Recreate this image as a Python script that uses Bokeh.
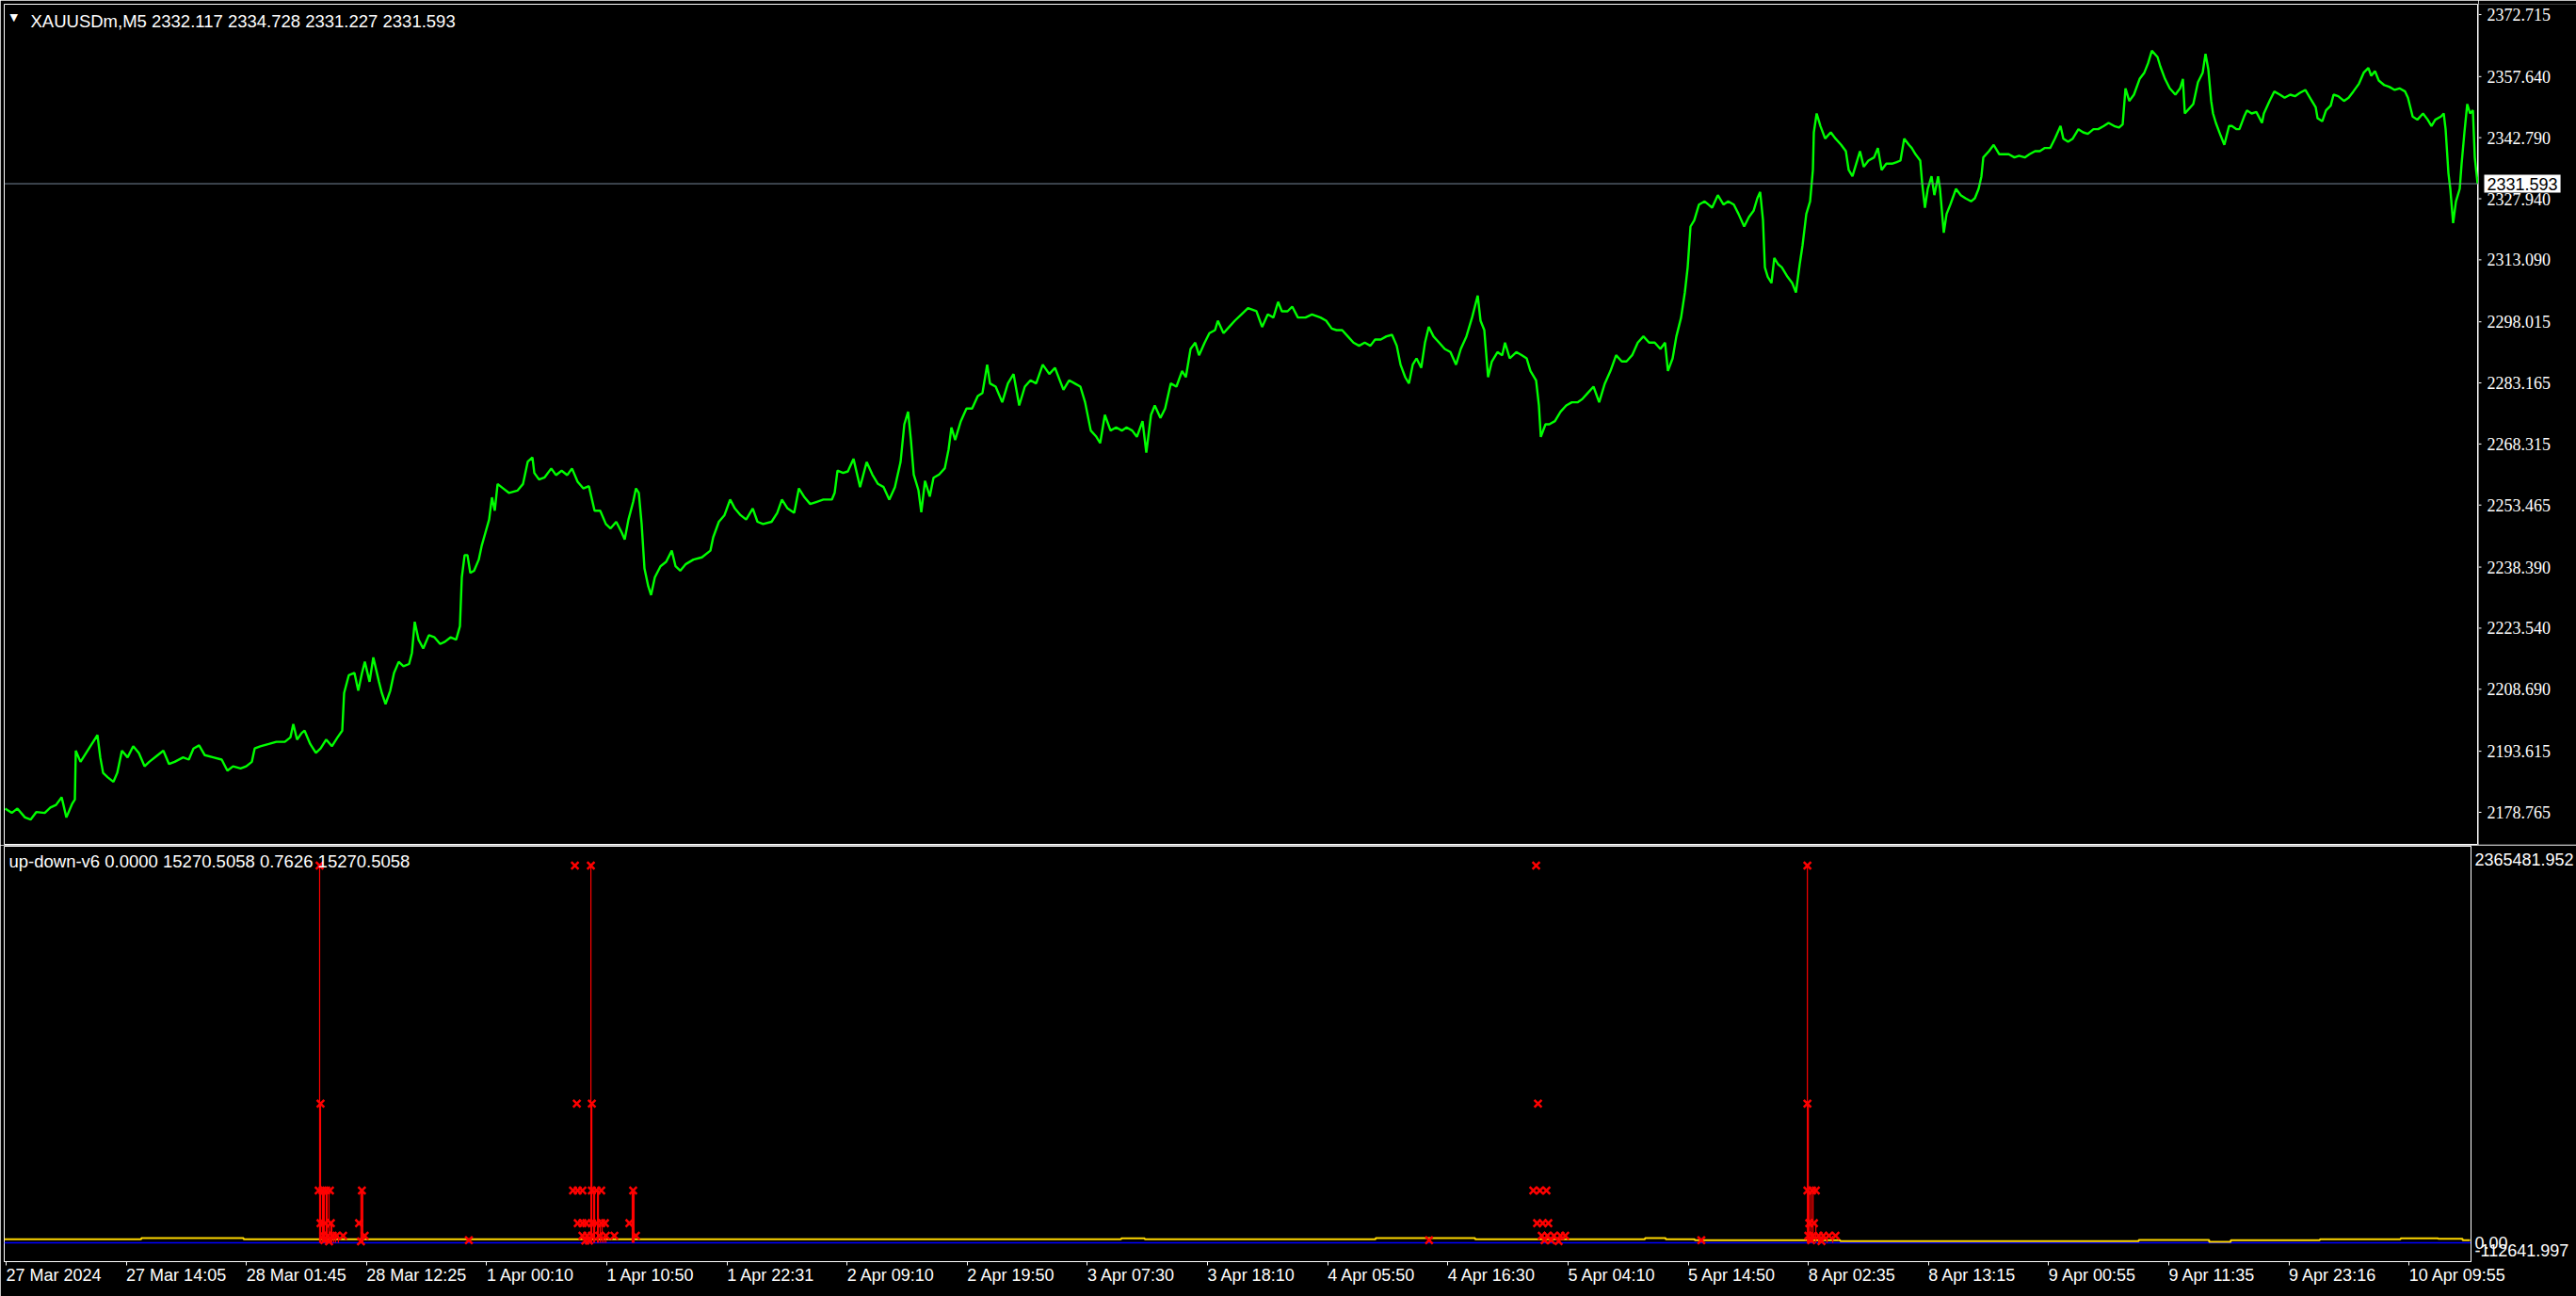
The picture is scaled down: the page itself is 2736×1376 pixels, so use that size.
from bokeh.plotting import figure
from bokeh.models import Range1d, FixedTicker, NumeralTickFormatter, Span, Label, ColumnDataSource
from bokeh.layouts import column, row
from bokeh.embed import file_html
from bokeh.resources import INLINE

# ---------------- data ----------------
symbol_text = "XAUUSDm,M5  2332.117 2334.728 2331.227 2331.593"
indicator_text = "up-down-v6 0.0000 15270.5058 0.7626 15270.5058"
bid_price = 2331.593

price_bar = [5, 12, 18, 26, 32, 38, 47, 53, 59, 65, 70, 76, 79, 80, 85, 91, 97, 103, 106, 109,
             114, 120, 124, 129, 135, 141, 147, 153, 158, 167, 173, 179, 185, 194, 200, 205, 211, 217, 226, 235,
             241, 247, 255, 261, 267, 270, 276, 285, 293, 302, 308, 311, 315, 320, 323, 329, 335, 340, 346, 352,
             358, 363, 365, 370, 376, 380, 384, 387, 392, 396, 402, 405, 409, 414, 418, 423, 428, 434, 437, 440,
             444, 449, 455, 461, 467, 472, 478, 484, 488, 490, 493, 496, 499, 503, 508, 511, 515, 519, 522, 525,
             528, 534, 540, 549, 555, 560, 565, 567, 572, 578, 585, 590, 596, 602, 607, 613, 619, 625, 631, 637,
             643, 648, 654, 660, 663, 667, 672, 675, 678, 681, 684, 688, 691, 695, 701, 707, 713, 717, 722, 728,
             736, 745, 754, 757, 763, 769, 775, 780, 786, 792, 799, 804, 810, 819, 825, 830, 836, 843, 848, 854,
             860, 867, 874, 883, 886, 889, 895,
             900, 906, 913, 920, 926, 932, 938, 944, 950, 956, 960, 964, 967, 970, 975, 978, 982, 987, 991, 997,
             1003, 1007, 1010, 1014, 1020, 1026, 1032, 1038, 1043, 1048, 1051, 1057, 1064, 1070, 1076, 1082, 1088, 1094, 1100, 1107,
             1114, 1120, 1129, 1135, 1141, 1147, 1152, 1158, 1164, 1168, 1173, 1179, 1185, 1191, 1196, 1202, 1207, 1213, 1217, 1222,
             1226, 1232, 1237, 1243, 1249, 1255, 1259, 1264, 1269, 1273, 1279, 1284, 1290, 1293, 1299, 1305, 1311, 1318, 1325, 1334,
             1340, 1346, 1352, 1357, 1361, 1367, 1372, 1378, 1386, 1393, 1402, 1408, 1414, 1419, 1425, 1431, 1437, 1443, 1449, 1455,
             1460, 1466, 1472, 1478, 1483, 1487, 1492, 1496, 1500, 1504, 1509, 1513, 1517, 1522, 1528, 1534, 1540, 1546, 1551, 1557,
             1563, 1569, 1572, 1576, 1580, 1584, 1590, 1595, 1598, 1603, 1610, 1616, 1621, 1625, 1631, 1634, 1636, 1641, 1645, 1651,
             1657, 1663, 1669, 1675, 1680, 1686, 1692, 1698, 1704, 1710, 1716, 1722, 1727, 1733, 1739, 1745, 1751, 1757, 1763, 1768,
             1771, 1776, 1780, 1785, 1789, 1792, 1795, 1799, 1804, 1810, 1814, 1818,
             1824, 1830, 1835, 1841, 1846, 1852, 1857, 1862, 1866, 1869, 1872, 1874, 1877, 1881, 1884, 1888, 1892, 1898, 1903, 1907,
             1911, 1914, 1918, 1922, 1925, 1926, 1929, 1933, 1938, 1944, 1949, 1955, 1960, 1963, 1967, 1971, 1975, 1979, 1984, 1990,
             1994, 1998, 2003, 2009, 2014, 2018, 2022, 2027, 2030, 2034, 2039, 2041, 2044, 2047, 2051, 2054, 2058, 2060, 2064, 2067,
             2071, 2077, 2082, 2087, 2093, 2097, 2101, 2104, 2106, 2112, 2117, 2123, 2128, 2133, 2139, 2144, 2150, 2155, 2161, 2166,
             2171, 2177, 2182, 2188, 2191, 2196, 2201, 2207, 2212, 2217, 2223, 2228, 2234, 2239, 2245, 2250, 2254, 2257, 2261, 2266,
             2272, 2277, 2281, 2285, 2291, 2294, 2299, 2304, 2310, 2315, 2318, 2320, 2323, 2329, 2334, 2339, 2342, 2345, 2348, 2350,
             2353, 2358, 2362, 2367, 2370, 2375, 2378, 2383, 2386, 2391, 2396, 2402, 2404, 2410, 2415, 2421, 2426, 2432, 2437, 2442,
             2448, 2453, 2459, 2461, 2466, 2470, 2475, 2478, 2483, 2489, 2494, 2499, 2505, 2510, 2515, 2518, 2522, 2526, 2532, 2537,
             2543, 2548, 2554, 2557, 2562, 2567, 2573, 2578, 2582, 2586, 2592, 2595, 2597, 2600, 2602, 2605, 2608, 2612, 2614, 2617,
             2620, 2623, 2626, 2628, 2631]

price_close = [2179.69, 2178.62, 2179.69, 2177.53, 2176.99, 2178.83, 2178.62, 2179.91, 2180.56, 2182.40, 2177.53, 2180.78, 2181.86, 2193.74, 2191.04, 2193.20, 2195.37, 2197.53, 2192.12, 2188.34,
               2187.26, 2186.18, 2188.34, 2193.74, 2192.12, 2194.83, 2193.20, 2189.96, 2191.04, 2192.66, 2193.74, 2190.50, 2191.04, 2192.12, 2191.58, 2194.28, 2195.04, 2192.66, 2192.12, 2191.58,
               2188.88, 2189.96, 2189.42, 2189.96, 2191.04, 2194.28, 2194.83, 2195.37, 2195.91, 2195.91, 2196.99, 2200.23, 2196.45, 2198.07, 2198.61, 2195.37, 2193.20, 2194.28, 2196.45, 2194.83,
               2196.99, 2198.61, 2207.79, 2212.12, 2212.66, 2208.33, 2212.66, 2215.36, 2210.50, 2216.44, 2210.50, 2207.79, 2205.09, 2208.33, 2212.66, 2215.36, 2214.28, 2214.82, 2217.52, 2225.08,
               2220.76, 2218.60, 2221.84, 2221.30, 2219.68, 2220.22, 2221.30, 2220.76, 2224.00, 2235.89, 2241.30, 2241.30, 2236.97, 2237.51, 2240.21, 2243.46, 2246.70, 2249.94, 2255.34, 2252.10,
               2258.59, 2257.51, 2256.43, 2256.97, 2258.59, 2264.01, 2265.07, 2261.29, 2259.67, 2260.21, 2262.37, 2260.75, 2261.83, 2260.75, 2262.37, 2259.13, 2257.51, 2258.05, 2252.10, 2252.10,
               2248.86, 2247.78, 2249.40, 2246.70, 2245.08, 2249.94, 2254.26, 2257.51, 2256.43, 2248.86, 2238.05, 2233.73, 2231.57, 2235.89, 2238.59, 2239.67, 2242.38, 2238.59, 2237.51, 2239.13,
               2240.21, 2240.75, 2242.38, 2245.62, 2249.40, 2251.02, 2254.80, 2252.64, 2251.02, 2249.94, 2252.64, 2249.40, 2248.86, 2249.40, 2251.56, 2254.80, 2252.64, 2251.56, 2257.51, 2255.34,
               2253.72, 2254.26, 2254.80, 2254.80, 2256.43, 2261.83, 2261.29,
               2261.65, 2264.71, 2257.84, 2263.94, 2260.89, 2258.60, 2257.84, 2254.78, 2257.84, 2263.94, 2273.10, 2276.16, 2269.29, 2260.89, 2257.07, 2251.73, 2259.36, 2255.55, 2260.12, 2260.89,
               2262.42, 2267.00, 2272.34, 2269.29, 2273.87, 2276.92, 2276.92, 2279.97, 2280.74, 2287.61, 2283.03, 2282.26, 2278.45, 2283.03, 2285.32, 2277.68, 2282.26, 2283.79, 2283.03, 2287.61,
               2285.32, 2286.84, 2281.50, 2283.79, 2283.03, 2282.26, 2278.45, 2271.58, 2270.05, 2268.52, 2275.39, 2271.58, 2272.34, 2271.58, 2272.34, 2271.58, 2270.05, 2273.87, 2266.23, 2275.39,
               2277.68, 2274.63, 2276.92, 2283.03, 2282.26, 2286.08, 2284.55, 2291.42, 2292.95, 2289.89, 2292.95, 2295.24, 2296.00, 2298.29, 2295.24, 2296.77, 2298.29, 2299.82, 2301.35, 2300.58,
               2296.77, 2299.82, 2299.06, 2302.87, 2300.58, 2300.58, 2301.73, 2299.06, 2299.06, 2299.82, 2299.06, 2298.29, 2296.38, 2296.00, 2296.00, 2294.48, 2292.95, 2292.19, 2292.95, 2292.19,
               2293.71, 2293.71, 2294.48, 2294.86, 2292.19, 2287.61, 2284.55, 2283.03, 2287.61, 2289.13, 2286.84, 2292.95, 2296.77, 2294.48, 2292.95, 2291.42, 2290.66, 2287.61, 2291.42, 2294.48,
               2299.06, 2304.40, 2298.29, 2296.00, 2284.55, 2288.37, 2290.66, 2289.89, 2292.95, 2289.13, 2290.66, 2289.89, 2289.13, 2286.08, 2283.79, 2277.68, 2270.05, 2273.10, 2273.10, 2273.87,
               2276.16, 2277.68, 2278.45, 2278.45, 2279.21, 2280.74, 2282.26, 2278.45, 2283.03, 2286.08, 2289.89, 2288.37, 2288.37, 2289.89, 2292.95, 2294.48, 2292.95, 2292.95, 2291.42, 2292.95,
               2286.08, 2289.13, 2294.48, 2299.06, 2305.16, 2311.27, 2321.19, 2322.72, 2326.53, 2327.30, 2326.53, 2325.77,
               2328.82, 2326.53, 2327.30, 2326.53, 2324.25, 2321.19, 2323.48, 2325.01, 2328.06, 2329.59, 2322.72, 2311.27, 2308.98, 2307.45, 2313.56, 2312.03, 2311.27, 2308.98, 2307.45, 2305.16,
               2312.03, 2316.61, 2324.25, 2327.30, 2334.93, 2344.09, 2348.67, 2345.62, 2342.56, 2344.09, 2342.56, 2341.04, 2339.51, 2334.93, 2333.40, 2336.46, 2339.51, 2335.70, 2337.22, 2337.99,
               2340.27, 2334.93, 2336.46, 2336.46, 2336.84, 2337.22, 2342.56, 2341.04, 2340.27, 2338.75, 2337.22, 2331.88, 2325.77, 2330.35, 2333.40, 2328.82, 2333.40, 2330.35, 2319.67, 2324.25,
               2326.53, 2330.35, 2328.82, 2328.06, 2327.30, 2328.06, 2330.35, 2333.40, 2337.99, 2339.51, 2341.04, 2338.75, 2338.75, 2338.75, 2337.99, 2338.37, 2337.99, 2338.75, 2339.51, 2339.51,
               2340.27, 2340.27, 2342.56, 2345.62, 2342.56, 2341.80, 2342.56, 2344.85, 2344.09, 2343.71, 2344.85, 2344.85, 2345.62, 2346.38, 2345.62, 2345.24, 2346.00, 2354.78, 2351.72, 2353.25,
               2357.07, 2358.59, 2360.88, 2363.94, 2362.41, 2360.12, 2357.07, 2354.78, 2353.25, 2354.78, 2357.07, 2348.67, 2349.43, 2350.96, 2356.30, 2358.59, 2363.17, 2359.36, 2351.72, 2348.67,
               2346.38, 2343.33, 2341.04, 2345.62, 2345.62, 2344.85, 2344.85, 2347.91, 2349.43, 2348.67, 2349.05, 2346.38, 2348.67, 2351.72, 2354.01, 2353.25, 2352.49, 2353.25, 2352.87, 2353.63,
               2354.40, 2352.49, 2350.20, 2347.53, 2346.76, 2349.43, 2350.58, 2353.25, 2352.87, 2351.72, 2352.49, 2354.01, 2355.92, 2358.59, 2359.74, 2357.83, 2358.97, 2356.69, 2355.54, 2355.16,
               2354.40, 2354.78, 2354.01, 2352.49, 2347.91, 2347.15, 2348.67, 2347.15, 2345.62, 2347.15, 2347.91, 2348.67, 2344.85, 2334.17, 2330.35, 2322.00, 2327.30, 2330.35, 2336.46, 2344.09,
               2350.96, 2348.67, 2349.43, 2338.00, 2331.593]

price_ticks = [2372.715, 2357.640, 2342.790, 2327.940, 2313.090, 2298.015, 2283.165,
               2268.315, 2253.465, 2238.390, 2223.540, 2208.690, 2193.615, 2178.765]

time_tick_bars = [6, 134, 262, 390, 518, 646, 774, 902, 1030, 1158, 1286,
                  1414, 1542, 1670, 1798, 1926, 2054, 2182, 2310, 2438, 2566]
time_tick_labels = ["27 Mar 2024", "27 Mar 14:05", "28 Mar 01:45", "28 Mar 12:25", "1 Apr 00:10",
                    "1 Apr 10:50", "1 Apr 22:31", "2 Apr 09:10", "2 Apr 19:50", "3 Apr 07:30",
                    "3 Apr 18:10", "4 Apr 05:50", "4 Apr 16:30", "5 Apr 04:10", "5 Apr 14:50",
                    "8 Apr 02:35", "8 Apr 13:15", "9 Apr 00:55", "9 Apr 11:35", "9 Apr 23:16",
                    "10 Apr 09:55"]

ind_max = 2365481.952
ind_min = -112641.997
blue_level = 0.0

yellow_bar = [4, 150, 259, 1194, 1219, 1465, 1571, 1752, 1774, 1805, 1960, 2278, 2353, 2376, 2471, 2557, 2597, 2623, 2631]
yellow_val = [21000, 28000, 21000, 27000, 21000, 28000, 21000, 28000, 21000, 15000, 9500, 17000, 5600, 15000, 21000, 27000, 23000, 15270.5058, 15270.5058]

red_bar = [340, 341, 343, 344, 345, 347, 348, 350, 352, 353, 355, 357, 360, 384, 385, 386,
           629, 630, 632, 633, 636, 637, 639, 641, 643, 645, 673, 674, 675,
           1925, 1926, 1927, 1929, 1931, 1934, 1937, 1941, 1946, 1952]
red_val = [2250000, 830000, 312000, 312000, 312000, 312000, 312000, 312000, 117000, 117000, 42000, 42000, 42000, 312000, 312000, 312000,
           2250000, 830000, 312000, 312000, 312000, 312000, 117000, 117000, 42000, 42000, 312000, 312000, 312000,
           2250000, 830000, 312000, 312000, 312000, 117000, 42000, 42000, 42000, 42000]

cross_bar = [340, 341, 339, 343, 347, 351, 341, 346, 352, 344, 349, 354, 358, 365, 345, 350, 385, 382, 388, 384,
             499,
             612, 629, 614, 630, 610, 615, 620, 630, 635, 640, 615, 620, 624, 630, 635, 640, 644, 670,
             620, 625, 630, 638, 645, 654, 677, 623, 627, 674,
             1522,
             1636, 1638, 1633, 1640, 1647, 1637, 1643, 1649, 1642, 1648, 1655, 1662, 1667, 1645, 1652, 1660,
             1812,
             1925, 1925, 1925, 1930, 1934, 1927, 1932, 1926, 1931, 1937, 1942, 1948, 1955, 1929, 1940]
cross_val = [2250000, 830000, 312000, 312000, 312000, 312000, 117000, 117000, 117000, 42000, 42000, 42000, 42000, 42000, 15000, 8000, 312000, 117000, 42000, 8000,
             15000,
             2250000, 2250000, 830000, 830000, 312000, 312000, 312000, 312000, 312000, 312000, 117000, 117000, 117000, 117000, 117000, 117000, 117000, 117000,
             42000, 42000, 42000, 42000, 42000, 42000, 42000, 12000, 12000, 312000,
             15000,
             2250000, 830000, 312000, 312000, 312000, 117000, 117000, 117000, 42000, 42000, 42000, 42000, 42000, 15000, 15000, 10000,
             15000,
             2250000, 830000, 312000, 312000, 312000, 117000, 117000, 42000, 42000, 42000, 42000, 42000, 42000, 15000, 10000]

# ---------------- styling ----------------
FONT = "Liberation Sans"
FS = "18px"
W = 2736
SCALE_W = 104
X0, X1 = 4, 2632
IND_FRAME_PX = 443

xr = Range1d(X0, X1)
price_range = Range1d(2170.97, 2375.23)


def style_axis(a, size=FS):
    a.major_label_text_color = "white"
    a.major_label_text_font = FONT
    a.major_label_text_font_size = size
    a.major_tick_in = 0
    a.minor_tick_line_color = None
    a.axis_line_color = "white"
    a.major_tick_line_color = "white"


common = dict(output_backend="svg", toolbar_location=None,
              background_fill_color="black", border_fill_color="black")

# --- price panel (frame only) ---
p1 = figure(width=W - SCALE_W, height=897, x_range=xr, y_range=price_range,
            x_axis_location=None, y_axis_location=None,
            outline_line_color="white", outline_line_width=1,
            min_border_left=4, min_border_top=4, min_border_bottom=1, min_border_right=0, **common)
p1.grid.visible = False
p1.line(price_bar, price_close, line_color="#00FF00", line_width=2.4)
p1.add_layout(Span(location=bid_price, dimension="width", line_color="#778899", line_width=1))
p1.add_layout(Label(x=10, y=price_range.end, y_offset=-7, text="\u25bc", text_color="white",
                    text_font="DejaVu Sans", text_font_size="11px", text_baseline="top"))
p1.add_layout(Label(x=32, y=price_range.end, y_offset=-7, text=symbol_text, text_color="white",
                    text_font=FONT, text_font_size="18.5px", text_baseline="top"))

# --- price scale strip (shares the price y scale) ---
ps = figure(width=SCALE_W, height=897, x_range=Range1d(0, SCALE_W), y_range=price_range,
            x_axis_location=None, y_axis_location=None, outline_line_color=None,
            min_border_left=0, min_border_top=4, min_border_bottom=1, min_border_right=0, **common)
ps.grid.visible = False
tick_src = ColumnDataSource(dict(y=price_ticks, label=[f"{t:.3f}" for t in price_ticks],
                                 x0=[0] * len(price_ticks), x1=[3] * len(price_ticks),
                                 xt=[9] * len(price_ticks)))
ps.segment(x0="x0", y0="y", x1="x1", y1="y", source=tick_src, line_color="white", line_width=1)
ps.text(x="xt", y="y", text="label", source=tick_src, text_color="white",
        text_font=FONT, text_font_size=FS, text_baseline="middle", text_align="left")
ps.add_layout(Label(x=6, y=bid_price, text=f"{bid_price:.3f}", text_color="black",
                    text_font=FONT, text_font_size=FS, text_baseline="middle", text_align="left",
                    background_fill_color="white", padding=3))

# --- indicator panel ---
p2 = figure(width=W, height=479, x_range=xr, y_range=Range1d(ind_min, ind_max),
            x_axis_location="below", y_axis_location="right",
            outline_line_color="white", outline_line_width=1,
            min_border_left=4, min_border_top=1, min_border_bottom=35, min_border_right=SCALE_W, **common)
p2.grid.visible = False
ax = p2.xaxis[0]
style_axis(ax)
ax.ticker = FixedTicker(ticks=time_tick_bars)
ax.major_label_overrides = {b: t for b, t in zip(time_tick_bars, time_tick_labels)}
ax.major_label_orientation = -1e-6   # numeric orientation -> labels start at their tick
ax.major_tick_out = 4
ax.major_label_standoff = 10

vpp = (ind_max - ind_min) / IND_FRAME_PX
scale_pos = [round(ind_max - 14 * vpp, 3), blue_level, round(ind_min + 12.5 * vpp, 3)]
scale_txt = [f"{ind_max:.3f}", f"{blue_level:.2f}", f"{ind_min:.3f}"]
ay2 = p2.yaxis[0]
style_axis(ay2)
ay2.ticker = FixedTicker(ticks=scale_pos)
ay2.major_label_overrides = {v: t for v, t in zip(scale_pos, scale_txt)}
ay2.major_tick_out = 3
ay2.major_tick_line_color = None
ay2.major_label_standoff = 1

p2.add_layout(Span(location=blue_level, dimension="width", line_color="#0000FF", line_width=1.5, level="underlay"))
p2.step(yellow_bar, yellow_val, mode="after", line_color="#FFD700", line_width=2)
src = ColumnDataSource(dict(x=red_bar, top=red_val, base=[blue_level] * len(red_bar)))
p2.segment(x0="x", y0="base", x1="x", y1="top", source=src, line_color="#FF0000", line_width=1.2)
p2.scatter(cross_bar, cross_val, marker="x", size=11, line_width=2.5, line_color="#FF0000")

p2.add_layout(Label(x=9, y=ind_max, y_offset=-5, text=indicator_text, text_color="white",
                    text_font=FONT, text_font_size="18.5px", text_baseline="top"))

layout = column(row(p1, ps, spacing=0), p2, spacing=0)
open("out.html", "w").write(file_html(layout, INLINE))
